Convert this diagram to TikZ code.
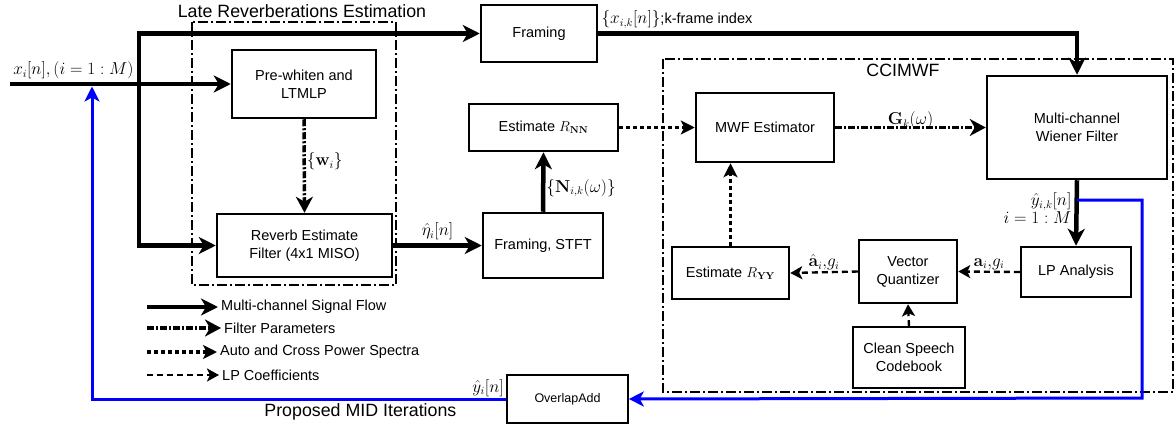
\documentclass[tikz,border=0pt]{standalone}
\usepackage{amsmath}
\usepackage[no-math]{fontspec}
\setmainfont{Liberation Sans}
\usetikzlibrary{arrows.meta}
\tikzset{>={Stealth[inset=5pt,length=17pt,width=17pt]}}
\definecolor{myblue}{RGB}{0,0,255}
\tikzset{
  block/.style={draw, line width=2.5pt, align=center, inner sep=2pt,
    font=\fontsize{14.5}{18}\selectfont},
  grp/.style={line width=1.2pt, dash pattern=on 10pt off 3pt on 2pt off 3pt},
  signal/.style={line width=4.5pt, ->},
  filt/.style={line width=3.5pt, dash pattern=on 7pt off 2pt on 2pt off 2pt,
    -{Stealth[inset=5pt,length=16pt,width=17pt]}},
  spec/.style={line width=3.3pt, dash pattern=on 4pt off 3pt,
    -{Stealth[inset=3.5pt,length=14pt,width=14pt]}},
  lpc/.style={line width=2.4pt, dash pattern=on 6pt off 4pt,
    -{Stealth[inset=3pt,length=12pt,width=13pt]}},
  feedback/.style={line width=3pt, draw=myblue,
    -{Stealth[inset=4pt,length=15pt,width=15pt]}},
  lbl/.style={font=\fontsize{16}{18}\selectfont, inner sep=1pt},
  grplbl/.style={font=\fontsize{17.8}{20}\selectfont, inner sep=0pt},
  legtxt/.style={font=\fontsize{14.5}{17}\selectfont, anchor=west, inner sep=3pt},
}

\begin{document}
\begin{tikzpicture}[x=1pt,y=-1pt]
  \useasboundingbox (0,0) rectangle (1175,428);

  % group frames
  \draw[grp] (192,22) rectangle (396,285);
  \draw[grp] (663,59) rectangle (1173,392);
  \node[grplbl] (latelbl) at (302,11) {Late Reverberations Estimation};
  \node[grplbl] (ccimwflbl) at (903,70) {CCIMWF};

  % blocks
  \node[block, minimum width=116pt, minimum height=57pt] (framing) at (539,33.5) {Framing};
  \node[block, minimum width=144pt, minimum height=68pt] (prewhiten) at (304,84) {Pre-whiten and\\LTMLP};
  \node[block, minimum width=175pt, minimum height=63pt] (reverb) at (304.5,245.5) {Reverb Estimate\\Filter (4x1 MISO)};
  \node[block, minimum width=149pt, minimum height=47pt] (rnn) at (543.5,127.5) {Estimate $R_{\mathbf{NN}}$};
  \node[block, minimum width=120pt, minimum height=65pt] (stft) at (543,245.5) {Framing, STFT};
  \node[block, minimum width=138pt, minimum height=69pt] (mwfest) at (765,127.5) {MWF Estimator};
  \node[block, minimum width=180pt, minimum height=103pt] (mcwf) at (1077,127.5) {Multi-channel\\Wiener Filter};
  \node[block, minimum width=117pt, minimum height=52pt] (ryy) at (730.5,273) {Estimate $R_{\mathbf{YY}}$};
  \node[block, minimum width=98pt, minimum height=63pt] (vq) at (908,271.5) {Vector\\Quantizer};
  \node[block, minimum width=110pt, minimum height=50pt] (lpa) at (1076,272) {LP Analysis};
  \node[block, line width=1.6pt, minimum width=112pt, minimum height=61pt] (codebook) at (909,357.5) {Clean Speech\\Codebook};
  \node[block, line width=1.6pt, minimum width=121pt, minimum height=48pt,
    font=\fontsize{12.5}{15}\selectfont] (overlap) at (567.5,399) {OverlapAdd};

  % free ends
  \coordinate (in) at (10,84);
  \coordinate (branch) at (139,84);
  \coordinate (tap) at (1077,200);
  \coordinate (loopR) at (1142,398);
  \coordinate (fbtop) at (92,86.5);

  % signal flow
  \draw[signal] (in) -- (prewhiten.west)
    node[at start, anchor=south west, lbl, yshift=2pt] {$x_i[n],(i=1:M)$};
  \draw[signal] (branch) |- (framing.west);
  \draw[signal] (branch) |- (reverb.west);
  \draw[signal] (framing.east) -| (mcwf.north)
    node[at start, anchor=south west, lbl, yshift=2pt]
    {$\{x_{i,k}[n]\}${\fontsize{14.5}{17}\selectfont;k-frame index}};
  \draw[signal] (reverb.east) -- (stft.west)
    node[midway, above, lbl, yshift=2pt] {$\hat{\eta}_i[n]$};
  \draw[signal] (stft.north) -- (rnn.south)
    node[pos=0.4, right, lbl] {$\{\mathbf{N}_{i,k}(\omega)\}$};
  \draw[signal] (mcwf.south) -- (lpa.north)
    node[pos=0.43, left=3pt, lbl, align=right, inner sep=0pt] {$\hat{y}_{i,k}[n]$\\$i=1:M$};

  % filter parameters
  \draw[filt] (prewhiten.south) -- (reverb.north)
    node[pos=0.45, right, lbl] {$\{\mathbf{w}_i\}$};
  \draw[filt] (mwfest.east) -- (mcwf.west)
    node[midway, above=-4pt, lbl] {$\mathbf{G}_k(\omega)$};

  % power spectra
  \draw[spec] (rnn.east) -- (mwfest.west);
  \draw[spec] (ryy.north) -- (ryy.north |- mwfest.south);

  % LP coefficients
  \draw[lpc] (lpa.west) -- (vq.east)
    node[midway, above, lbl] {$\mathbf{a}_i{,}g_i$};
  \draw[lpc] (vq.west) -- (ryy.east)
    node[midway, above, lbl] {$\hat{\mathbf{a}}_i{,}g_i$};
  \draw[lpc] (codebook.north) -- (vq.south);

  % iterations
  \draw[feedback] (tap) -| (loopR) -- (overlap.east);
  \draw[feedback] (overlap.west) -| (fbtop)
    node[at start, above left, lbl] {$\hat{y}_i[n]$}
    node[pos=0.176, below, grplbl, inner sep=3pt] {Proposed MID Iterations};

  % legend
  \coordinate (leg1) at (147,307);
  \coordinate (leg2) at (147,328);
  \coordinate (leg3) at (147,352);
  \coordinate (leg4) at (147,375);
  \node[legtxt] (legtxt1) at (218,307) {Multi-channel Signal Flow};
  \node[legtxt] (legtxt2) at (221,328) {Filter Parameters};
  \node[legtxt] (legtxt3) at (217,352) {Auto and Cross Power Spectra};
  \node[legtxt] (legtxt4) at (219,375) {LP Coefficients};
  \draw[signal] (leg1) -- (legtxt1.west);
  \draw[filt] (leg2) -- (legtxt2.west);
  \draw[spec] (leg3) -- (legtxt3.west);
  \draw[lpc] (leg4) -- (legtxt4.west);

\end{tikzpicture}
\end{document}
